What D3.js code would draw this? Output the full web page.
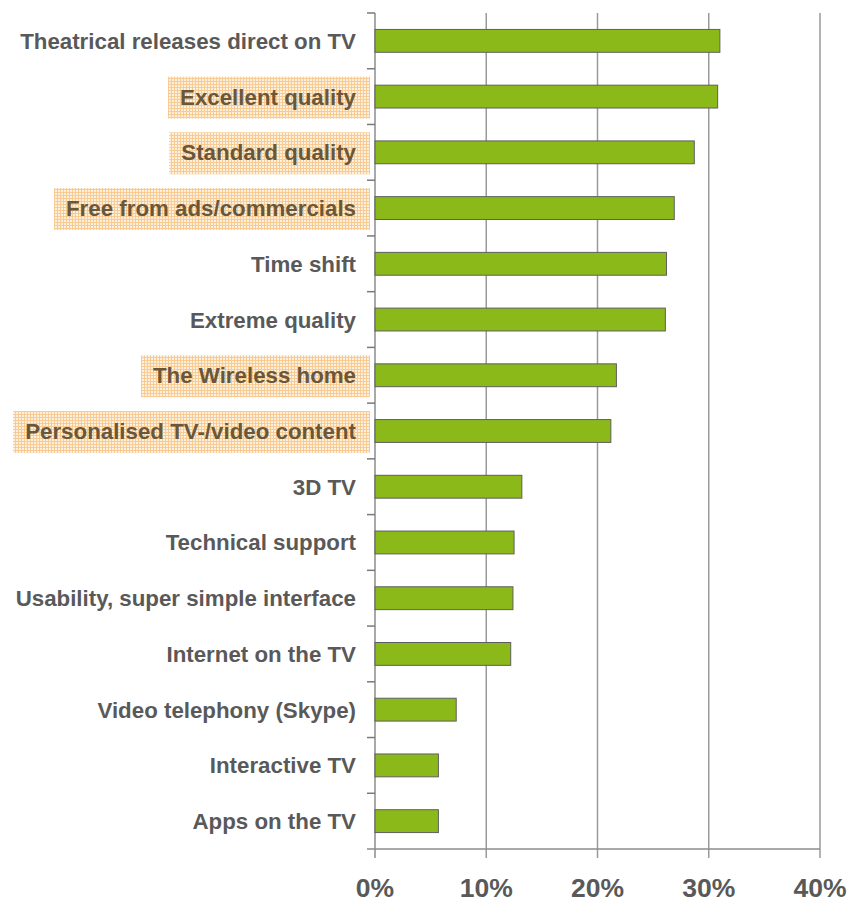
<!DOCTYPE html>
<html lang="en">
<head>
<meta charset="utf-8">
<title>Features bar chart</title>
<script src="https://d3js.org/d3.v7.min.js"></script>
<style>
  body { margin: 0; background: #fff; }
  svg { display: block; font-family: "Liberation Sans", Arial, sans-serif; }
  .cat { font-size: 22.3px; font-weight: bold; fill: #595959; }
  .cat.hl { fill: #6a573a; }
  .tick-label { font-size: 26.5px; font-weight: bold; fill: #595959; }
</style>
</head>
<body>
<div id="chart"></div>
<script>
// data (percent of respondents)
var categories = [
  "Theatrical releases direct on TV",
  "Excellent quality",
  "Standard quality",
  "Free from ads/commercials",
  "Time shift",
  "Extreme quality",
  "The Wireless home",
  "Personalised TV-/video content",
  "3D TV",
  "Technical support",
  "Usability, super simple interface",
  "Internet on the TV",
  "Video telephony (Skype)",
  "Interactive TV",
  "Apps on the TV"
];
var values = [31.0, 30.8, 28.7, 26.9, 26.2, 26.1, 21.7, 21.2, 13.2, 12.5, 12.4, 12.2, 7.3, 5.7, 5.7];
var highlighted = [
  "Excellent quality",
  "Standard quality",
  "Free from ads/commercials",
  "The Wireless home",
  "Personalised TV-/video content"
];
var xTicks = [0, 10, 20, 30, 40];

var W = 852, H = 903;
var x0 = 375, x1 = 820, yTop = 13, yBottom = 849;

var svg = d3.select("#chart").append("svg")
    .attr("width", W)
    .attr("height", H);

var x = d3.scaleLinear().domain([0, 40]).range([x0, x1]);
var y = d3.scaleBand().domain(categories).range([yTop, yBottom])
    .paddingInner(0.59).paddingOuter(0.295);

// hatched background for highlighted labels
var pat = svg.append("defs").append("pattern")
    .attr("id", "hlPattern")
    .attr("width", 3).attr("height", 3)
    .attr("patternUnits", "userSpaceOnUse");
pat.append("rect").attr("width", 3).attr("height", 3).attr("fill", "#fdf0de");
pat.append("rect").attr("width", 3).attr("height", 1).attr("fill", "#f8cb93");
pat.append("rect").attr("width", 1).attr("height", 3).attr("fill", "#f8cb93");

// vertical gridlines
svg.append("g").selectAll("line")
    .data(xTicks.slice(1))
    .join("line")
    .attr("x1", d => x(d)).attr("x2", d => x(d))
    .attr("y1", yTop).attr("y2", yBottom + 9)
    .attr("stroke", "#9a9a9a")
    .attr("stroke-width", 1.5);

// bottom axis
svg.append("line")
    .attr("x1", x0 - 8).attr("x2", x1)
    .attr("y1", yBottom).attr("y2", yBottom)
    .attr("stroke", "#8c8c8c").attr("stroke-width", 1.5);
svg.append("line")
    .attr("x1", x0).attr("x2", x0)
    .attr("y1", yBottom).attr("y2", yBottom + 9)
    .attr("stroke", "#8c8c8c").attr("stroke-width", 1.5);

svg.append("g").selectAll("text")
    .data(xTicks)
    .join("text")
    .attr("class", "tick-label")
    .attr("x", d => x(d))
    .attr("y", 897)
    .attr("text-anchor", "middle")
    .text(d => d + "%");

// left axis with ticks between categories
var step = y.step(), off = (step - y.bandwidth()) / 2;
var bounds = categories.map(c => y(c) - off);
svg.append("line")
    .attr("x1", x0).attr("x2", x0)
    .attr("y1", yTop).attr("y2", yBottom)
    .attr("stroke", "#8c8c8c").attr("stroke-width", 1.5);
svg.append("g").selectAll("line")
    .data(bounds)
    .join("line")
    .attr("x1", x0 - 8).attr("x2", x0)
    .attr("y1", d => d).attr("y2", d => d)
    .attr("stroke", "#7a7a7a").attr("stroke-width", 1.5);

// category labels
var labels = svg.append("g");
categories.forEach(function (c) {
  var isHl = highlighted.indexOf(c) >= 0;
  var cy = y(c) + y.bandwidth() / 2;
  var g = labels.append("g");
  var t = g.append("text")
      .attr("class", isHl ? "cat hl" : "cat")
      .attr("x", 356)
      .attr("y", cy)
      .attr("dy", "0.36em")
      .attr("text-anchor", "end")
      .text(c);
  if (isHl) {
    var bb = t.node().getBBox();
    g.insert("rect", "text")
        .attr("x", bb.x - 12)
        .attr("y", cy - 20)
        .attr("width", 370 - (bb.x - 12))
        .attr("height", 42)
        .attr("fill", "url(#hlPattern)");
  }
});

// bars
svg.append("g").selectAll("rect")
    .data(values)
    .join("rect")
    .attr("x", x(0))
    .attr("y", (d, i) => y(categories[i]))
    .attr("width", d => x(d) - x(0))
    .attr("height", y.bandwidth())
    .attr("fill", "#8bb91a")
    .attr("stroke", "#5f5f5f")
    .attr("stroke-width", 1);
</script>
</body>
</html>
